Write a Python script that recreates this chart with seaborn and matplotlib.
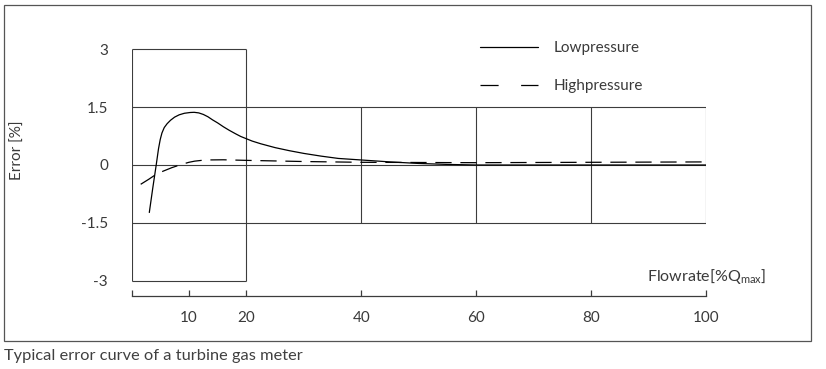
# Typical error curve of a turbine gas meter
#
# python plot.py

import matplotlib
matplotlib.use("Agg")
import matplotlib.pyplot as plt
import matplotlib.patches as mpatches
import numpy as np
import pandas as pd
import seaborn as sns


# flowrate in % of Qmax, error in %
low_flow = [3.1, 3.7, 4.3, 4.7, 5.0, 5.3, 5.7, 6.2, 6.8, 7.5, 8.3, 9.2, 10.2, 10.9, 11.7,
            12.5, 13.3, 14.1, 15.0, 16.0, 17.0, 18.1, 19.0, 20.0, 21.0, 22.5, 25.0, 27.5,
            30.0, 33.0, 36.0, 40.0, 45.0, 50.0, 55.0, 60.0, 70.0, 80.0, 90.0, 100.0]
low_error = [-1.23, -0.60, 0.0, 0.42, 0.66, 0.83, 0.97, 1.07, 1.16, 1.24, 1.30, 1.34, 1.36, 1.365, 1.35,
             1.31, 1.25, 1.17, 1.09, 0.99, 0.90, 0.81, 0.74, 0.68, 0.62, 0.55, 0.45, 0.37,
             0.30, 0.23, 0.17, 0.13, 0.08, 0.04, 0.015, 0.0, 0.0, 0.0, 0.0, 0.0]

high_flow = [1.6, 3.0, 4.1, 5.5, 7.0, 8.8, 10.0, 11.0, 12.8, 16.0, 20.0, 30.0, 40.0, 60.0, 80.0, 100.0]
high_error = [-0.50, -0.37, -0.26, -0.16, -0.07, 0.02, 0.07, 0.10, 0.13, 0.135, 0.12, 0.09, 0.07, 0.06, 0.07, 0.08]

y_ticks = [3, 1.5, 0, -1.5, -3]
y_tick_labels = ["3", "1.5", "0", "-1.5", "-3"]
x_ticks = [0, 10, 20, 40, 60, 80, 100]
x_tick_labels = ["", "10", "20", "40", "60", "80", "100"]

series_names = ["Lowpressure", "Highpressure"]

TEXT = "#3a3a3a"
LINE = "#3c3c3c"

W, H = 826, 369


def main():
    sns.set_style("white")
    plt.rcParams["font.family"] = ["Lato", "DejaVu Sans"]
    plt.rcParams["mathtext.fontset"] = "custom"
    plt.rcParams["mathtext.rm"] = "Lato"
    plt.rcParams["mathtext.it"] = "Lato"

    df = pd.concat([
        pd.DataFrame({"flow": low_flow, "error": low_error, "series": series_names[0]}),
        pd.DataFrame({"flow": high_flow, "error": high_error, "series": series_names[1]}),
    ], ignore_index=True)

    fig = plt.figure(figsize=(W / 100, H / 100), dpi=100)
    # axes placed so that x 0..100 -> px 131.5..706, y 0 -> px 165, 38.6 px / unit
    y_lo, y_hi = -3.5, 3.25
    px_unit = 38.6
    top_px = 165 - y_hi * px_unit
    bot_px = 165 - y_lo * px_unit
    ax = fig.add_axes([131.5 / W, (H - bot_px) / H, (706 - 131.5) / W, (bot_px - top_px) / H])

    # outer frame
    fig.patches.append(mpatches.Rectangle((4 / W, (H - 341) / H), 807 / W, 336 / H,
                                          transform=fig.transFigure, fill=False,
                                          edgecolor="#555555", lw=0.9))

    # box + grid
    lw = 0.8
    ax.vlines([0, 20], -3, 3, color=LINE, lw=lw)
    ax.hlines([3, -3], 0, 20, color=LINE, lw=lw)
    ax.hlines([1.5, 0, -1.5], 0, 100, color=LINE, lw=lw)
    ax.vlines([40, 60, 80, 100], -1.5, 1.5, color=LINE, lw=lw)

    sns.lineplot(data=df, x="flow", y="error", style="series", sort=False,
                 dashes={"Lowpressure": "", "Highpressure": (13, 7)},
                 color="black", lw=0.9, ax=ax, estimator=None)

    ax.set_xlim(0, 100)
    ax.set_ylim(y_lo, y_hi)
    ax.set_xlabel("")
    ax.set_ylabel("")

    for s in ["top", "right", "left"]:
        ax.spines[s].set_visible(False)
    ax.spines["bottom"].set_position(("data", -(296 - 165) / px_unit))
    ax.spines["bottom"].set_bounds(0, 100)
    ax.spines["bottom"].set_color(LINE)
    ax.spines["bottom"].set_linewidth(0.9)

    ax.set_xticks(x_ticks)
    ax.set_xticklabels(x_tick_labels)
    ax.set_yticks(y_ticks)
    ax.set_yticklabels(y_tick_labels)
    ax.tick_params(axis="x", direction="in", length=4.5, width=0.9, color=LINE,
                   pad=11, labelsize=11, labelcolor=TEXT, bottom=True)
    ax.tick_params(axis="y", length=0, pad=17, labelsize=11, labelcolor=TEXT, left=True)

    # legend
    handles, labels = ax.get_legend_handles_labels()
    leg = ax.legend(handles, labels, loc="upper left",
                    bbox_to_anchor=(480 / W, (H - 41) / H), bbox_transform=fig.transFigure,
                    frameon=False, fontsize=11, handlelength=3.8, handletextpad=1.0,
                    labelspacing=1.6, borderpad=0, borderaxespad=0)
    for t in leg.get_texts():
        t.set_color(TEXT)
    for h in leg.get_lines():
        h.set_color("black")
        h.set_linewidth(0.9)
    leg.get_lines()[1].set_dashes((14.5, 18))

    fig.text(647 / W, (H - 277) / H, r"Flowrate[%Q$_{\mathrm{max}}$]", fontsize=11.5,
             color=TEXT, ha="left", va="center")
    fig.text(18 / W, (H - 150) / H, "Error [%]", fontsize=11, color=TEXT,
             rotation=90, ha="center", va="center")
    fig.text(4 / W, (H - 356) / H, "Typical error curve of a turbine gas meter",
             fontsize=11.8, color="#404040", ha="left", va="center")

    plt.savefig("out.png", dpi=100)


if __name__ == "__main__":
    main()
